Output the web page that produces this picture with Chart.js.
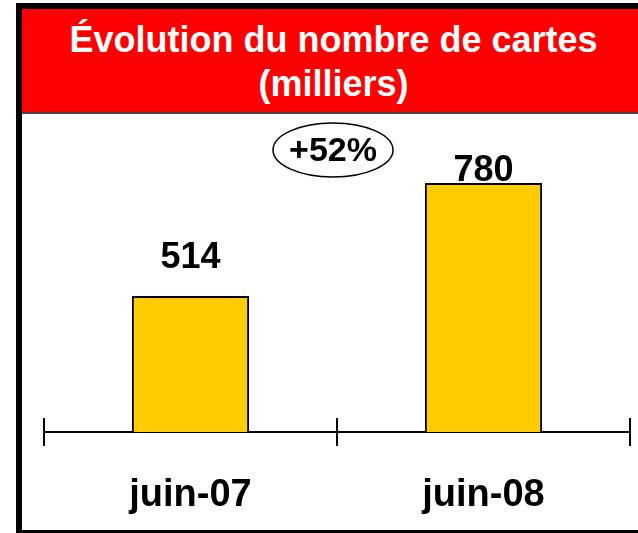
<!DOCTYPE html>
<html>
<head>
<meta charset="utf-8">
<script src="https://cdn.jsdelivr.net/npm/chart.js@4/dist/chart.umd.min.js"></script>
<style>
  body { margin: 0; background: #fff; }
  #frame {
    position: absolute; left: 16px; top: 3px; width: 622px; height: 530px;
    box-sizing: border-box; border-left: 6px solid #000; border-top: 6px solid #000;
    border-bottom: 3px solid #000;
  }
  #title {
    height: 105px; box-sizing: border-box; background: #ff0000; color: #fff;
    border-bottom: 2px solid #444; padding: 9px 0 0 7px; text-align: center;
    font: bold 36px "Liberation Sans", Arial, sans-serif; line-height: 44px;
  }
  #chart { position: absolute; left: 0; top: 0; }
</style>
</head>
<body>
<div id="frame"><div id="title">Évolution du nombre de cartes<br>(milliers)</div></div>
<canvas id="chart" width="638" height="533"></canvas>
<script>
const categories = ['juin-07', 'juin-08'];
const cartes = [514, 780];

const fontFamily = '"Liberation Sans", Arial, sans-serif';

// étiquettes de valeur au-dessus des barres (décalage propre à chaque barre)
const valueLabels = {
  id: 'valueLabels',
  afterDatasetsDraw(chart) {
    const ctx = chart.ctx;
    const lift = [28, 2];
    ctx.save();
    ctx.fillStyle = '#000';
    ctx.font = 'bold 36px ' + fontFamily;
    ctx.textAlign = 'center';
    ctx.textBaseline = 'alphabetic';
    chart.getDatasetMeta(0).data.forEach((bar, i) => {
      ctx.fillText(String(cartes[i]), bar.x, bar.y - lift[i]);
    });

    // bulle de croissance
    const x = chart.scales.x;
    const cx = (x.left + x.right) / 2 - 4;
    const cy = 150;
    const growth = Math.round((cartes[1] / cartes[0] - 1) * 100);
    ctx.beginPath();
    ctx.ellipse(cx, cy, 60, 27, 0, 0, Math.PI * 2);
    ctx.lineWidth = 1.5;
    ctx.strokeStyle = '#000';
    ctx.stroke();
    ctx.font = 'bold 34px ' + fontFamily;
    ctx.textBaseline = 'middle';
    ctx.fillText('+' + growth + '%', cx, cy + 2);
    ctx.restore();
  }
};

// petits traits de graduation qui traversent l'axe
const tickMarks = {
  id: 'tickMarks',
  afterDraw(chart) {
    const x = chart.scales.x;
    const ctx = chart.ctx;
    const n = categories.length;
    const y0 = chart.chartArea.bottom;
    ctx.save();
    ctx.strokeStyle = '#000';
    ctx.lineWidth = 2;
    for (let i = 0; i <= n; i++) {
      const px = Math.round(x.left + i * (x.right - x.left) / n);
      ctx.beginPath();
      ctx.moveTo(px, y0 - 14);
      ctx.lineTo(px, y0 + 14);
      ctx.stroke();
    }
    ctx.restore();
  }
};

new Chart(document.getElementById('chart'), {
  type: 'bar',
  data: {
    labels: categories,
    datasets: [{
      data: cartes,
      backgroundColor: '#ffcc00',
      borderColor: '#000',
      borderWidth: 2,
      barPercentage: 0.4,
      categoryPercentage: 1
    }]
  },
  options: {
    responsive: false,
    animation: false,
    layout: { padding: { left: 44, right: 8, top: 130, bottom: 14 } },
    plugins: { legend: { display: false }, tooltip: { enabled: false } },
    scales: {
      x: {
        grid: { display: false, offset: true },
        border: { display: true, color: '#000', width: 2 },
        ticks: {
          color: '#000',
          padding: 33,
          font: { family: fontFamily, size: 38, weight: 'bold' }
        },
        afterFit(scale) { scale.height = 87; }
      },
      y: { display: false, min: 194, max: 905 }
    }
  },
  plugins: [valueLabels, tickMarks]
});
</script>
</body>
</html>
